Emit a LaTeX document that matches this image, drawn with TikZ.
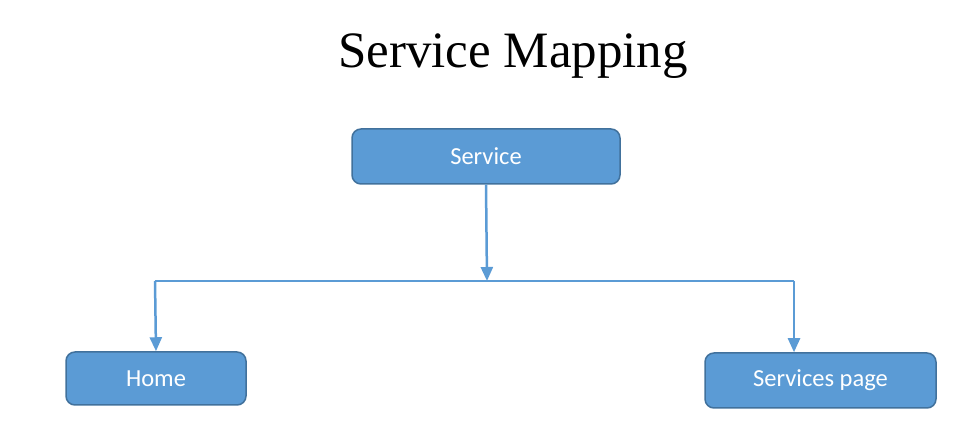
\documentclass[tikz,border=0pt]{standalone}
\usepackage{fontspec}
\setmainfont{Liberation Serif}
\newfontfamily\boxfont{Carlito}
\usetikzlibrary{arrows.meta}
\definecolor{boxfill}{HTML}{5B9BD5}
\definecolor{boxline}{HTML}{41719C}
\tikzset{
  box/.style={draw=boxline, fill=boxfill, line width=1.5pt, rounded corners=9pt,
    text=white, font=\boxfont\fontsize{24.5}{28}\selectfont, inner sep=0pt, anchor=center},
  conn/.style={draw=boxfill, line width=2.5pt},
  arr/.style={conn, -{Triangle[width=12pt,length=14pt]}}
}
\begin{document}
\begin{tikzpicture}[x=1pt,y=1pt]
\useasboundingbox (0,0) rectangle (976,443);
\node[anchor=base, font=\fontsize{51}{58}\selectfont] (title) at (513,375) {Service Mapping};
\node[box, minimum width=268pt, minimum height=55pt] (svc) at (486,286.5) {Service};
\node[box, minimum width=180pt, minimum height=53pt] (home) at (156,64.5) {Home};
\node[box, minimum width=231pt, minimum height=55pt] (sp) at (820.5,62.5) {Services page};
\coordinate (mid) at (487,162);
\coordinate (L) at (155,162);
\coordinate (R) at (794,162);
\draw[conn] (L) -- (R);
\draw[arr] (svc.south) -- (mid);
\draw[arr] (L) -- (home.north);
\draw[arr] (R) -- (R |- sp.north);
\end{tikzpicture}
\end{document}
